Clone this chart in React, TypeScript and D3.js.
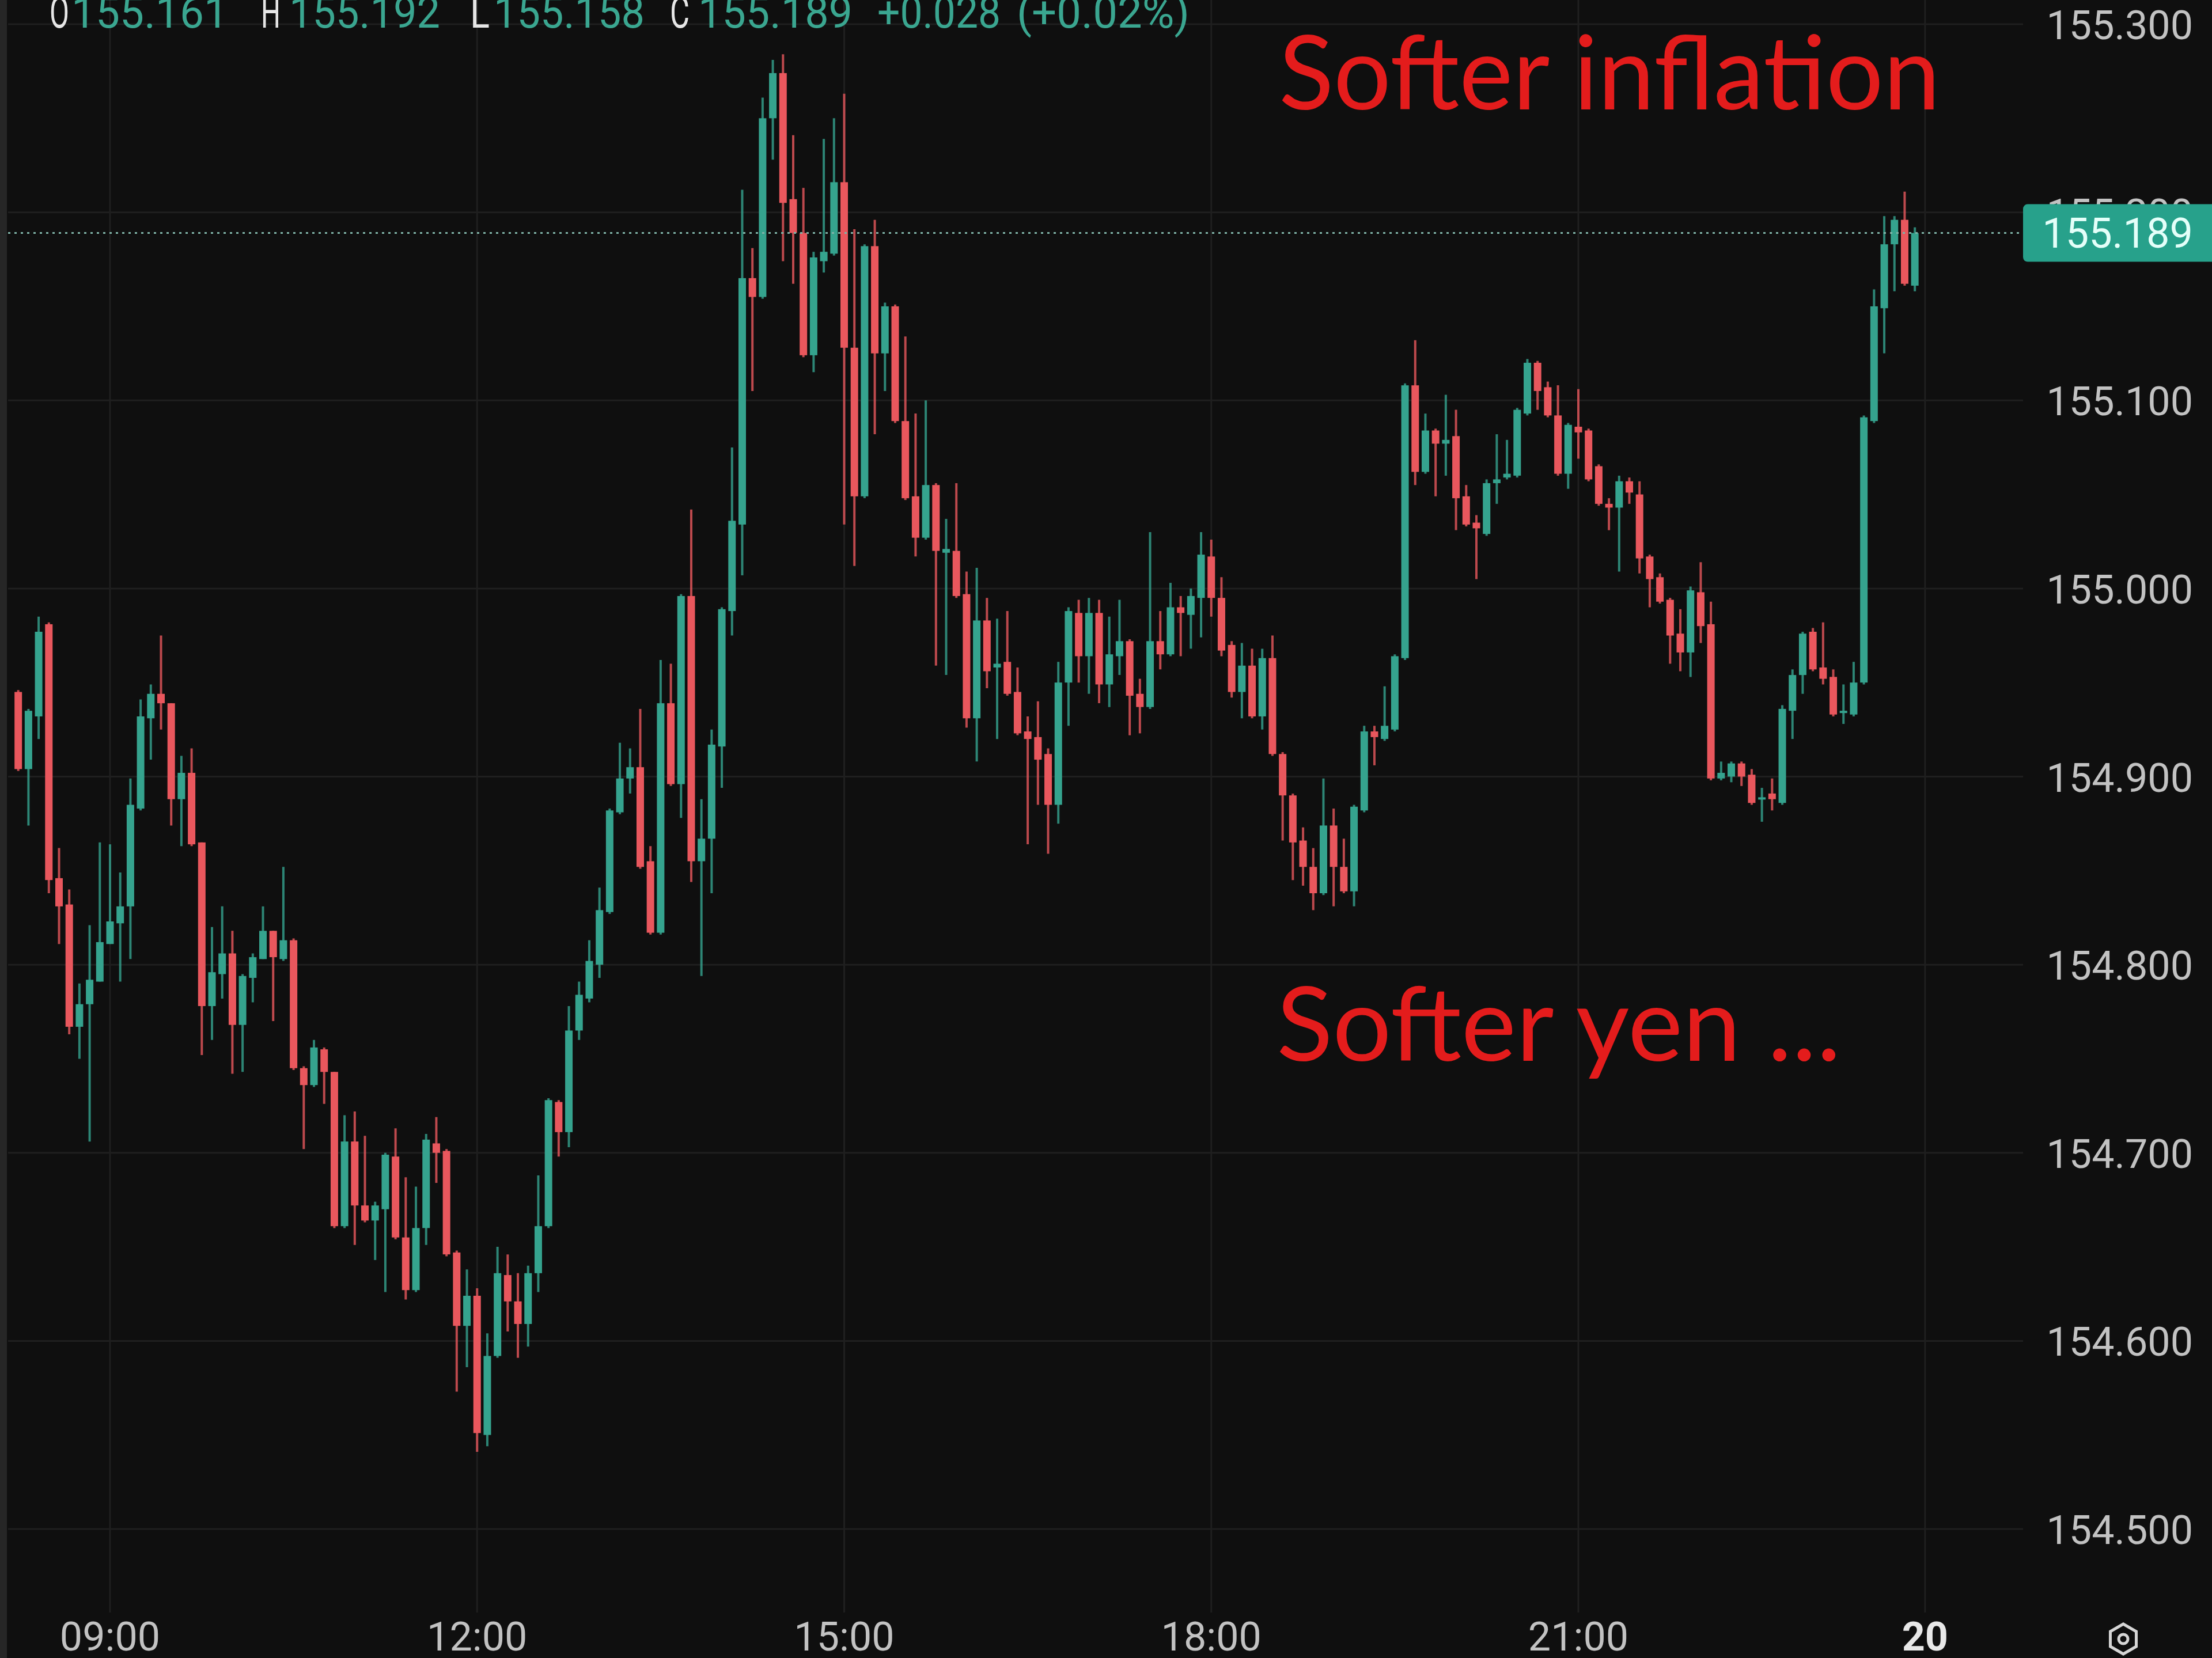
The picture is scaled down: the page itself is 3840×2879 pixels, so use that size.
import React, { useEffect, useRef } from 'react';
import * as d3 from 'd3';

const W = 3840;
const H = 2879;

// USD/JPY 5 minute bars, index 0 = 08:15 ... 186 = 23:55
const opens = [
  154.945, 154.904, 154.932, 154.981, 154.846, 154.832, 154.767, 154.779, 154.791, 154.811,
  154.822, 154.831, 154.883, 154.931, 154.944, 154.939, 154.888, 154.902, 154.865, 154.778,
  154.795, 154.806, 154.768, 154.793, 154.803, 154.818, 154.803, 154.813, 154.745, 154.736,
  154.755, 154.743, 154.661, 154.706, 154.672, 154.664, 154.670, 154.698, 154.655, 154.627,
  154.660, 154.705, 154.701, 154.647, 154.608, 154.624, 154.550, 154.592, 154.635, 154.621,
  154.609, 154.636, 154.661, 154.727, 154.711, 154.765, 154.782, 154.800, 154.828, 154.881,
  154.899, 154.905, 154.855, 154.817, 154.939, 154.896, 154.996, 154.855, 154.867, 154.916,
  154.988, 155.034, 155.165, 155.155, 155.250, 155.274, 155.207, 155.189, 155.124, 155.174,
  155.178, 155.216, 155.128, 155.049, 155.182, 155.125, 155.150, 155.089, 155.049, 155.027,
  155.055, 155.019, 155.020, 154.997, 154.931, 154.983, 154.958, 154.961, 154.945, 154.924,
  154.921, 154.912, 154.885, 154.950, 154.987, 154.964, 154.987, 154.949, 154.964, 154.972,
  154.944, 154.937, 154.972, 154.965, 154.990, 154.986, 154.995, 155.017, 154.995, 154.970,
  154.945, 154.959, 154.932, 154.963, 154.912, 154.890, 154.866, 154.852, 154.838, 154.874,
  154.852, 154.839, 154.882, 154.924, 154.920, 154.925, 154.963, 155.108, 155.062, 155.084,
  155.077, 155.081, 155.049, 155.035, 155.029, 155.056, 155.059, 155.060, 155.093, 155.120,
  155.107, 155.092, 155.061, 155.086, 155.084, 155.065, 155.045, 155.043, 155.057, 155.050,
  155.017, 155.006, 154.994, 154.976, 154.966, 154.998, 154.981, 154.899, 154.900, 154.907,
  154.901, 154.888, 154.891, 154.886, 154.935, 154.954, 154.977, 154.958, 154.953, 154.934,
  154.933, 154.950, 155.089, 155.149, 155.183, 155.196, 155.161,
];

const highs = [
  154.946, 154.936, 154.985, 154.982, 154.862, 154.840, 154.790, 154.821, 154.865, 154.864,
  154.849, 154.899, 154.941, 154.949, 154.975, 154.939, 154.911, 154.915, 154.865, 154.820,
  154.831, 154.818, 154.795, 154.806, 154.831, 154.818, 154.852, 154.814, 154.746, 154.760,
  154.756, 154.743, 154.720, 154.722, 154.709, 154.674, 154.700, 154.713, 154.687, 154.682,
  154.710, 154.719, 154.702, 154.648, 154.638, 154.628, 154.604, 154.650, 154.646, 154.636,
  154.640, 154.688, 154.729, 154.728, 154.778, 154.791, 154.813, 154.841, 154.883, 154.918,
  154.915, 154.936, 154.863, 154.962, 154.960, 154.997, 155.042, 154.888, 154.925, 154.990,
  155.075, 155.212, 155.181, 155.261, 155.281, 155.284, 155.241, 155.213, 155.179, 155.239,
  155.250, 155.263, 155.191, 155.183, 155.196, 155.152, 155.151, 155.134, 155.093, 155.100,
  155.056, 155.037, 155.056, 155.009, 155.011, 154.995, 154.984, 154.988, 154.958, 154.932,
  154.940, 154.915, 154.961, 154.990, 154.994, 154.995, 154.994, 154.985, 154.994, 154.973,
  154.952, 155.030, 154.988, 155.003, 154.996, 155.000, 155.030, 155.026, 155.006, 154.972,
  154.971, 154.968, 154.968, 154.975, 154.913, 154.891, 154.873, 154.862, 154.899, 154.883,
  154.867, 154.885, 154.927, 154.927, 154.948, 154.965, 155.109, 155.132, 155.093, 155.085,
  155.103, 155.095, 155.055, 155.039, 155.058, 155.082, 155.079, 155.096, 155.122, 155.121,
  155.110, 155.108, 155.088, 155.106, 155.085, 155.066, 155.048, 155.060, 155.059, 155.057,
  155.018, 155.008, 154.995, 154.989, 155.001, 155.014, 154.993, 154.908, 154.908, 154.908,
  154.904, 154.894, 154.899, 154.938, 154.957, 154.977, 154.979, 154.982, 154.957, 154.949,
  154.961, 155.092, 155.159, 155.198, 155.198, 155.211, 155.192,
];

const lows = [
  154.903, 154.874, 154.920, 154.838, 154.811, 154.763, 154.750, 154.706, 154.791, 154.811,
  154.791, 154.803, 154.882, 154.909, 154.925, 154.874, 154.863, 154.863, 154.752, 154.760,
  154.782, 154.742, 154.743, 154.780, 154.803, 154.770, 154.802, 154.744, 154.702, 154.735,
  154.726, 154.660, 154.660, 154.651, 154.663, 154.643, 154.626, 154.654, 154.622, 154.626,
  154.651, 154.684, 154.645, 154.573, 154.586, 154.541, 154.544, 154.591, 154.605, 154.591,
  154.597, 154.626, 154.660, 154.698, 154.703, 154.760, 154.780, 154.793, 154.827, 154.880,
  154.891, 154.851, 154.816, 154.816, 154.895, 154.878, 154.844, 154.794, 154.838, 154.894,
  154.975, 155.007, 155.105, 155.154, 155.228, 155.174, 155.162, 155.123, 155.115, 155.168,
  155.177, 155.034, 155.012, 155.048, 155.082, 155.105, 155.088, 155.047, 155.017, 155.026,
  154.959, 154.954, 154.995, 154.926, 154.908, 154.947, 154.920, 154.943, 154.922, 154.864,
  154.885, 154.859, 154.875, 154.927, 154.950, 154.944, 154.939, 154.937, 154.954, 154.922,
  154.923, 154.936, 154.957, 154.964, 154.964, 154.968, 154.974, 154.985, 154.964, 154.942,
  154.931, 154.931, 154.925, 154.911, 154.866, 154.845, 154.842, 154.829, 154.837, 154.831,
  154.838, 154.831, 154.881, 154.906, 154.919, 154.924, 154.962, 155.055, 155.061, 155.049,
  155.060, 155.031, 155.033, 155.005, 155.028, 155.045, 155.058, 155.059, 155.092, 155.095,
  155.091, 155.060, 155.053, 155.069, 155.057, 155.044, 155.031, 155.009, 155.045, 155.008,
  154.990, 154.992, 154.960, 154.956, 154.953, 154.971, 154.898, 154.898, 154.897, 154.895,
  154.885, 154.876, 154.882, 154.885, 154.920, 154.944, 154.956, 154.949, 154.932, 154.928,
  154.932, 154.949, 155.088, 155.125, 155.158, 155.161, 155.158,
];

const closes = [
  154.904, 154.935, 154.977, 154.845, 154.831, 154.767, 154.779, 154.792, 154.812, 154.823,
  154.831, 154.885, 154.932, 154.944, 154.939, 154.888, 154.902, 154.864, 154.778, 154.796,
  154.806, 154.768, 154.794, 154.804, 154.818, 154.804, 154.813, 154.745, 154.736, 154.756,
  154.743, 154.661, 154.706, 154.672, 154.664, 154.672, 154.699, 154.655, 154.627, 154.660,
  154.707, 154.700, 154.646, 154.608, 154.624, 154.551, 154.592, 154.636, 154.621, 154.609,
  154.636, 154.661, 154.728, 154.711, 154.765, 154.784, 154.802, 154.829, 154.882, 154.899,
  154.905, 154.852, 154.817, 154.939, 154.896, 154.996, 154.855, 154.867, 154.917, 154.989,
  155.036, 155.165, 155.155, 155.250, 155.274, 155.205, 155.189, 155.124, 155.176, 155.179,
  155.216, 155.128, 155.049, 155.182, 155.125, 155.150, 155.089, 155.048, 155.027, 155.055,
  155.020, 155.021, 154.996, 154.931, 154.983, 154.956, 154.960, 154.944, 154.923, 154.920,
  154.909, 154.885, 154.950, 154.988, 154.964, 154.987, 154.949, 154.965, 154.972, 154.943,
  154.937, 154.972, 154.965, 154.990, 154.987, 154.996, 155.018, 154.995, 154.967, 154.945,
  154.959, 154.932, 154.963, 154.912, 154.890, 154.865, 154.852, 154.838, 154.874, 154.852,
  154.839, 154.884, 154.924, 154.921, 154.927, 154.964, 155.108, 155.062, 155.084, 155.077,
  155.079, 155.048, 155.034, 155.032, 155.056, 155.058, 155.061, 155.095, 155.120, 155.105,
  155.092, 155.061, 155.087, 155.083, 155.058, 155.045, 155.043, 155.057, 155.051, 155.016,
  155.005, 154.993, 154.975, 154.966, 154.999, 154.980, 154.899, 154.902, 154.907, 154.900,
  154.886, 154.889, 154.888, 154.936, 154.954, 154.976, 154.957, 154.952, 154.933, 154.935,
  154.950, 155.091, 155.150, 155.183, 155.196, 155.162, 155.189,
];

const timeTickBars = [9, 45, 81, 117, 153, 187];
const timeTickLabels = ['09:00', '12:00', '15:00', '18:00', '21:00', '20'];

const priceTicks = [155.3, 155.2, 155.1, 155.0, 154.9, 154.8, 154.7, 154.6, 154.5];
const lastPrice = 155.189;

const headerKeys = ['O', 'H', 'L', 'C'];
const headerValues = ['155.161', '155.192', '155.158', '155.189'];
const headerChange = ['+0.028', '(+0.02%)'];

const notes = ['Softer inflation', 'Softer yen ...'];

const UP = '#35a38e';
const DOWN = '#e9575d';
const BG = '#0f0f0f';
const GRID = '#1f1f1f';
const AXIS_TEXT = '#c2c2c2';
const NOTE_RED = '#e41c1c';
const LEGEND_GREEN = '#3aa690';

const App = () => {
  const svgRef = useRef(null);

  useEffect(() => {
    const svg = d3.select(svgRef.current);
    svg.selectAll('*').remove();

    const paneRight = 3512;
    const paneBottom = 2800;

    const x = d3.scaleLinear().domain([9, 153]).range([191, 2740]);
    const y = d3.scaleLinear().domain([154.5, 155.3]).range([2655, 42]);

    svg.append('rect').attr('width', W).attr('height', H).attr('fill', BG);

    // grid
    svg.append('g')
      .selectAll('line')
      .data(priceTicks)
      .enter()
      .append('line')
      .attr('x1', 14)
      .attr('x2', paneRight)
      .attr('y1', d => y(d))
      .attr('y2', d => y(d))
      .attr('stroke', GRID)
      .attr('stroke-width', 3);

    svg.append('g')
      .selectAll('line')
      .data(timeTickBars)
      .enter()
      .append('line')
      .attr('x1', d => x(d))
      .attr('x2', d => x(d))
      .attr('y1', 0)
      .attr('y2', paneBottom)
      .attr('stroke', GRID)
      .attr('stroke-width', 3);

    // left edge strip
    svg.append('rect').attr('x', 0).attr('y', 0).attr('width', 12).attr('height', H).attr('fill', '#262626');

    // candles
    const bars = d3.range(opens.length);
    const bodyW = 13;
    const g = svg.append('g');

    g.selectAll('.wick')
      .data(bars)
      .enter()
      .append('line')
      .attr('class', 'wick')
      .attr('x1', i => x(i))
      .attr('x2', i => x(i))
      .attr('y1', i => y(highs[i]))
      .attr('y2', i => y(lows[i]))
      .attr('stroke', i => (closes[i] >= opens[i] ? UP : DOWN))
      .attr('stroke-opacity', 0.8)
      .attr('stroke-width', 4);

    g.selectAll('.body')
      .data(bars)
      .enter()
      .append('rect')
      .attr('class', 'body')
      .attr('x', i => x(i) - bodyW / 2)
      .attr('y', i => y(Math.max(opens[i], closes[i])))
      .attr('width', bodyW)
      .attr('height', i => Math.max(4, Math.abs(y(opens[i]) - y(closes[i]))))
      .attr('fill', i => (closes[i] >= opens[i] ? UP : DOWN));

    // last price dotted line
    svg.append('line')
      .attr('x1', 14)
      .attr('x2', paneRight)
      .attr('y1', y(lastPrice))
      .attr('y2', y(lastPrice))
      .attr('stroke', '#7fb3a7')
      .attr('stroke-width', 3)
      .attr('stroke-dasharray', '4 7');

    // price axis labels
    svg.append('g')
      .selectAll('text')
      .data(priceTicks)
      .enter()
      .append('text')
      .attr('x', 3807)
      .attr('y', d => y(d) + 26)
      .attr('text-anchor', 'end')
      .attr('font-family', 'Roboto, sans-serif')
      .attr('font-size', 70)
      .attr('fill', AXIS_TEXT)
      .text(d => d.toFixed(3));

    // last price tag (covers the 155.200 label like the original)
    svg.append('rect')
      .attr('x', paneRight)
      .attr('y', y(lastPrice) - 50)
      .attr('width', W - paneRight + 10)
      .attr('height', 100)
      .attr('rx', 8)
      .attr('fill', '#27a18b');
    svg.append('text')
      .attr('x', 3807)
      .attr('y', y(lastPrice) + 25)
      .attr('text-anchor', 'end')
      .attr('font-family', 'Roboto, sans-serif')
      .attr('font-size', 72)
      .attr('fill', '#e4fff9')
      .text(lastPrice.toFixed(3));

    // time axis
    svg.append('g')
      .selectAll('text')
      .data(timeTickBars)
      .enter()
      .append('text')
      .attr('x', d => x(d))
      .attr('y', 2866)
      .attr('text-anchor', 'middle')
      .attr('font-family', 'Roboto, sans-serif')
      .attr('font-size', 70)
      .attr('font-weight', (d, i) => (timeTickLabels[i] === '20' ? 700 : 400))
      .attr('fill', (d, i) => (timeTickLabels[i] === '20' ? '#e8e8e8' : AXIS_TEXT))
      .text((d, i) => timeTickLabels[i]);

    // settings icon
    const hex = d3.range(6).map(k => {
      const a = (Math.PI / 3) * k + Math.PI / 6;
      return [3686 + 26 * Math.cos(a), 2846 + 26 * Math.sin(a)];
    });
    svg.append('path')
      .attr('d', d3.line()(hex) + 'Z')
      .attr('fill', 'none')
      .attr('stroke', '#d6d6d6')
      .attr('stroke-width', 5);
    svg.append('circle')
      .attr('cx', 3686)
      .attr('cy', 2846)
      .attr('r', 8)
      .attr('fill', 'none')
      .attr('stroke', '#d6d6d6')
      .attr('stroke-width', 5);

    // OHLC legend, widths matched to the screenshot
    const keyX = [86, 453, 816, 1163];
    const valX = [124, 502, 857, 1212];
    const valW = [272, 262, 262, 268];
    const legend = svg.append('g')
      .attr('font-family', 'Roboto, sans-serif')
      .attr('font-size', 76);
    headerKeys.forEach((k, i) => {
      legend.append('text')
        .attr('x', keyX[i])
        .attr('y', 48)
        .attr('fill', '#e6e6e6')
        .attr('textLength', 34)
        .attr('lengthAdjust', 'spacingAndGlyphs')
        .text(k);
      legend.append('text')
        .attr('x', valX[i])
        .attr('y', 48)
        .attr('fill', LEGEND_GREEN)
        .attr('textLength', valW[i])
        .attr('lengthAdjust', 'spacingAndGlyphs')
        .text(headerValues[i]);
    });
    legend.append('text')
      .attr('x', 1523)
      .attr('y', 48)
      .attr('fill', LEGEND_GREEN)
      .attr('textLength', 214)
      .attr('lengthAdjust', 'spacingAndGlyphs')
      .text(headerChange[0]);
    legend.append('text')
      .attr('x', 1765)
      .attr('y', 48)
      .attr('fill', LEGEND_GREEN)
      .attr('textLength', 300)
      .attr('lengthAdjust', 'spacingAndGlyphs')
      .text(headerChange[1]);

    // annotations
    svg.append('text')
      .attr('x', 2220)
      .attr('y', 190)
      .attr('font-family', 'Lato, "Open Sans", sans-serif')
      .attr('font-size', 178)
      .attr('fill', NOTE_RED)
      .attr('textLength', 1148)
      .attr('lengthAdjust', 'spacingAndGlyphs')
      .text(notes[0]);
    svg.append('text')
      .attr('x', 2216)
      .attr('y', 1842)
      .attr('font-family', 'Lato, "Open Sans", sans-serif')
      .attr('font-size', 178)
      .attr('fill', NOTE_RED)
      .attr('textLength', 980)
      .attr('lengthAdjust', 'spacingAndGlyphs')
      .text(notes[1]);
  }, []);

  return (
    <svg
      ref={svgRef}
      width={W}
      height={H}
      style={{ position: 'absolute', left: 0, top: 0, display: 'block' }}
    ></svg>
  );
};

export default App;
